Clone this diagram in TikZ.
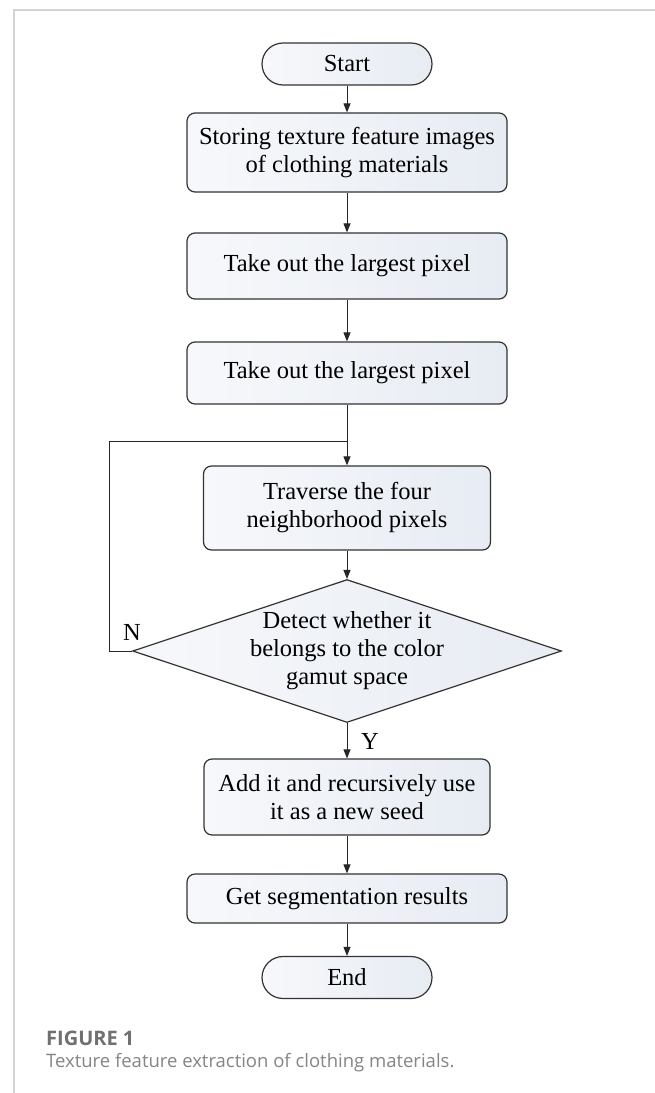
\documentclass[tikz,border=0pt]{standalone}
\usepackage{fontspec}
\setmainfont{Liberation Serif}
\newfontfamily\capfont{Open Sans}
\usetikzlibrary{arrows.meta,shapes.geometric}
\definecolor{boxfillL}{RGB}{247,248,251}
\definecolor{boxfillR}{RGB}{231,236,243}
\definecolor{framegray}{RGB}{212,212,212}
\definecolor{capgray}{RGB}{112,112,112}
\tikzset{
  flowbox/.style={draw=black!80,line width=1.2pt,rounded corners=8pt,
    left color=boxfillL,right color=boxfillR,align=center,inner sep=0pt,
    font=\fontsize{24.5}{28}\selectfont},
  termbox/.style={flowbox,rounded corners=21pt,minimum width=170pt,minimum height=42pt},
  decide/.style={diamond,aspect=3,draw=black!80,line width=1.2pt,
    left color=boxfillL,right color=boxfillR,align=center,inner sep=0pt,
    font=\fontsize{24.5}{28}\selectfont},
  flowarrow/.style={-{Triangle[length=9pt,width=7pt]},line width=1pt,black!85},
  flowline/.style={line width=1pt,black!85},
  branchlbl/.style={inner sep=0pt,font=\fontsize{24.5}{28}\selectfont}
}
\begin{document}
\begin{tikzpicture}[x=1pt,y=1pt]
            \fill[white] (0,0) rectangle (655,-1093);
            \useasboundingbox (0,0) rectangle (655,-1093);
            % page frame
            \draw[framegray,line width=1.5pt] (14,-1093) -- (14,-10) -- (655,-10);
            % steps
            \node[termbox] (start) at (347,-64) {Start};
            \node[flowbox,minimum width=320pt,minimum height=79pt] (store) at (347,-152.5) {Storing texture feature images\\of clothing materials};
            \node[flowbox,minimum width=320pt,minimum height=66pt] (take1) at (347,-266) {Take out the largest pixel};
            \node[flowbox,minimum width=320pt,minimum height=62pt] (take2) at (347,-373) {Take out the largest pixel};
            \coordinate (join) at (347,-441);
            \node[flowbox,minimum width=287pt,minimum height=84pt] (trav) at (347,-508) {Traverse the four\\neighborhood pixels};
            \node[decide,minimum width=424pt,minimum height=142pt] (detect) at (347,-651) {Detect whether it\\belongs to the color\\gamut space};
            \node[flowbox,minimum width=286pt,minimum height=76pt] (add) at (347,-797) {Add it and recursively use\\it as a new seed};
            \node[flowbox,minimum width=320pt,minimum height=49pt] (seg) at (347,-898.5) {Get segmentation results};
            \node[termbox] (end) at (347,-977.5) {End};
            % connectors
            \draw[flowarrow] (start) -- (store);
            \draw[flowarrow] (store) -- (take1);
            \draw[flowarrow] (take1) -- (take2);
            \draw[flowarrow] (take2) -- (trav);
            \draw[flowarrow] (trav) -- (detect);
            \draw[flowarrow] (detect) -- (add);
            \draw[flowarrow] (add) -- (seg);
            \draw[flowarrow] (seg) -- (end);
            \coordinate (loopcorner) at (109,-651);
            \draw[flowline] (detect.west) -- (loopcorner) |- (join);
            \node[branchlbl] (nlab) at (132,-632) {N};
            \node[branchlbl] (ylab) at (370,-741) {Y};
            % caption
            \node[anchor=west,inner sep=0pt,text=capgray,font=\capfont\bfseries\fontsize{20}{24}\selectfont] (figno) at (46,-1038) {FIGURE 1};
            \node[anchor=west,inner sep=0pt,text=capgray!85,font=\capfont\fontsize{18.5}{22}\selectfont] (figcap) at (46,-1063) {Texture feature extraction of clothing materials.};
        \end{tikzpicture}
\end{document}
